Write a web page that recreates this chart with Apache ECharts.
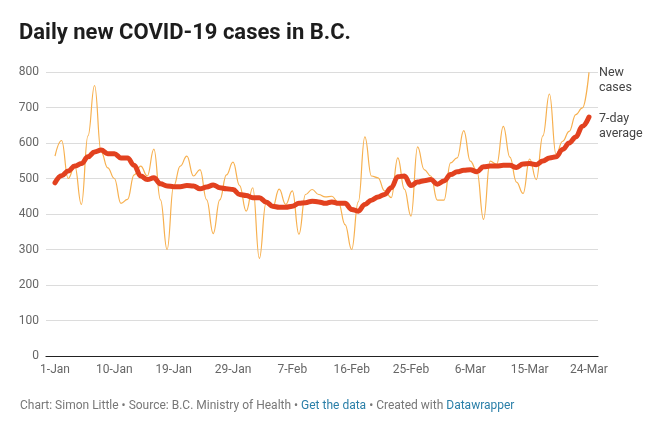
<!DOCTYPE html>
<html>
<head>
<meta charset="utf-8">
<script src="https://cdn.jsdelivr.net/npm/echarts@6/dist/echarts.min.js"></script>
<style>
html,body{margin:0;padding:0;background:#fff;}
#chart{width:653px;height:437px;}
</style>
</head>
<body>
<div id="chart"></div>
<script>
const categories = [
'1-Jan','2-Jan','3-Jan','4-Jan','5-Jan','6-Jan','7-Jan','8-Jan','9-Jan','10-Jan',
'11-Jan','12-Jan','13-Jan','14-Jan','15-Jan','16-Jan','17-Jan','18-Jan','19-Jan','20-Jan',
'21-Jan','22-Jan','23-Jan','25-Jan','26-Jan','27-Jan','28-Jan','29-Jan','30-Jan','31-Jan',
'1-Feb','2-Feb','3-Feb','4-Feb','5-Feb','6-Feb','7-Feb','8-Feb','9-Feb','10-Feb',
'11-Feb','12-Feb','13-Feb','14-Feb','15-Feb','16-Feb','17-Feb','18-Feb','19-Feb','20-Feb',
'21-Feb','22-Feb','23-Feb','24-Feb','25-Feb','26-Feb','27-Feb','28-Feb','1-Mar','2-Mar',
'3-Mar','4-Mar','5-Mar','6-Mar','7-Mar','8-Mar','9-Mar','10-Mar','11-Mar','12-Mar',
'13-Mar','14-Mar','15-Mar','16-Mar','17-Mar','18-Mar','19-Mar','20-Mar','21-Mar','22-Mar',
'23-Mar','24-Mar'
];

const newCases = [
563,607,500,535,427,620,762,575,530,500,
430,441,510,535,507,583,440,300,479,535,
563,507,525,440,345,440,510,546,480,408,
474,275,430,418,470,427,465,343,455,469,
455,448,450,432,370,300,434,617,507,502,
465,446,558,470,394,589,525,507,439,439,
544,558,635,549,520,385,549,540,647,560,
490,458,555,497,620,738,568,605,633,680,
699,799
];

const sevenDayAverage = [
488,508,521,535,542,561,575,580,570,570,
558,558,537,507,497,502,485,479,477,477,
480,479,471,476,482,474,471,469,455,452,
446,446,434,422,419,419,422,430,432,436,
434,430,434,430,430,413,408,427,439,448,
455,474,505,507,480,490,494,497,484,493,
511,519,523,525,519,533,535,535,537,537,
531,541,542,539,549,558,561,582,600,617,
647,673
];

const yTicks = [0,100,200,300,400,500,600,700,800];

const FONT = 'Roboto, "Noto Sans", sans-serif';
const chart = echarts.init(document.getElementById('chart'));
chart.setOption({
  animation: false,
  backgroundColor: '#ffffff',
  textStyle: {fontFamily: FONT},
  title: [
    {
      text: 'Daily new COVID-19 cases in B.C.',
      left: 19, top: 22, padding: 0,
      textStyle: {fontFamily: FONT, fontWeight: 'bold', fontSize: 22, color: '#1d1d1d'}
    },
    {
      text: '{g|Chart: Simon Little • Source: B.C. Ministry of Health • }{b|Get the data}{g| • Created with }{b|Datawrapper}',
      left: 20, top: 400, padding: 0,
      textStyle: {
        fontWeight: 'normal',
        rich: {
          g: {fontFamily: FONT, fontSize: 12, fontWeight: 'normal', color: '#777777'},
          b: {fontFamily: FONT, fontSize: 12, fontWeight: 'normal', color: '#2a7fa8'}
        }
      }
    }
  ],
  grid: [
    {left: 55, right: 64, top: 72, bottom: 81},
    {left: 46, right: 55, top: 72, bottom: 81}
  ],
  xAxis: [
    {
      type: 'category', gridIndex: 0, data: categories, boundaryGap: false,
      axisLine: {show: false}, axisTick: {show: false},
      axisLabel: {interval: 8, color: '#666', fontSize: 12, margin: 8, fontFamily: FONT, showMaxLabel: true}
    },
    {
      type: 'value', gridIndex: 1, min: 0, max: 1,
      axisLine: {show: true, onZero: false, lineStyle: {color: '#222', width: 1.2}},
      axisTick: {show: false}, axisLabel: {show: false}, splitLine: {show: false}
    }
  ],
  yAxis: [
    {
      type: 'value', gridIndex: 0, min: 0, max: 800, interval: 100,
      axisLine: {show: false}, axisTick: {show: false}, axisLabel: {show: false}, splitLine: {show: false}
    },
    {
      type: 'value', gridIndex: 1, min: yTicks[0], max: yTicks[yTicks.length - 1], interval: 100,
      axisLine: {show: false}, axisTick: {show: false},
      axisLabel: {color: '#666', fontSize: 12, margin: 7, fontFamily: FONT},
      splitLine: {lineStyle: {color: '#dcdcdc', width: 1}}
    }
  ],
  series: [
    {
      name: 'New cases', type: 'line', xAxisIndex: 0, yAxisIndex: 0,
      data: newCases, symbol: 'none', smooth: 0.45, smoothMonotone: 'x',
      lineStyle: {color: '#f7b04f', width: 1.2},
      endLabel: {show: true, formatter: 'New\ncases', color: '#444', fontSize: 12.5, lineHeight: 15, distance: 10, offset: [0, 8], fontFamily: FONT},
      z: 2
    },
    {
      name: '7-day average', type: 'line', xAxisIndex: 0, yAxisIndex: 0,
      data: sevenDayAverage, symbol: 'none', smooth: 0.4, smoothMonotone: 'x',
      lineStyle: {color: '#e2411f', width: 5, cap: 'round', join: 'round'},
      endLabel: {show: true, formatter: '7-day\naverage', color: '#444', fontSize: 12.5, lineHeight: 15, distance: 10, offset: [0, 9], fontFamily: FONT},
      z: 3
    }
  ]
});
</script>
</body>
</html>
